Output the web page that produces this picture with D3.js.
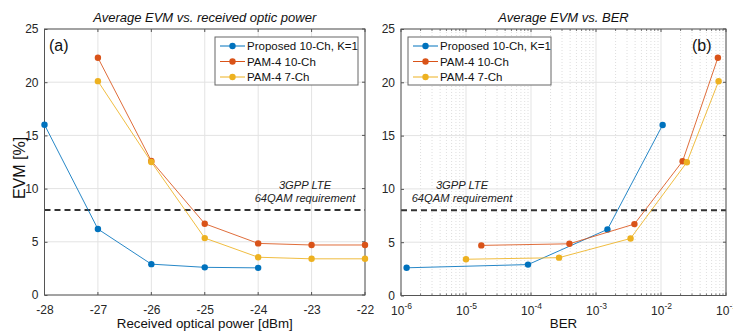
<!DOCTYPE html>
<html>
<head>
<meta charset="utf-8">
<script src="https://cdn.jsdelivr.net/npm/d3@7"></script>
<style>
  html, body { margin: 0; padding: 0; background: #fff; }
  svg { display: block; font-family: "Liberation Sans", Arial, Helvetica, sans-serif; }
</style>
</head>
<body>
<svg id="fig" width="733" height="333"></svg>
<script>
// Received optical power sweep [dBm]
const powerDbm = [-28, -27, -26, -25, -24, -23, -22];

// Average EVM [%] for each scheme (null = not measured)
const evmProposed = [16.0, 6.2, 2.9, 2.6, 2.55, null, null];
const evmPam4Ch10 = [null, 22.3, 12.6, 6.7, 4.85, 4.7, 4.7];
const evmPam4Ch7  = [null, 20.1, 12.5, 5.35, 3.55, 3.4, 3.4];

// Measured BER at the same power points (null = error free / not shown)
const berProposed = [1.06e-2, 1.5e-3, 9.0e-5, 1.22e-6, null, null, null];
const berPam4Ch10 = [null, 7.5e-2, 2.15e-2, 3.9e-3, 3.9e-4, 1.72e-5, null];
const berPam4Ch7  = [null, 7.7e-2, 2.5e-2, 3.4e-3, 2.7e-4, 1.0e-5, null];

const seriesNames = ["Proposed 10-Ch, K=1", "PAM-4 10-Ch", "PAM-4 7-Ch"];
const seriesColors = ["#0072BD", "#D95319", "#EDB120"];

const evmTicks = [0, 5, 10, 15, 20, 25];
const powerTicks = [-28, -27, -26, -25, -24, -23, -22];
const berTicks = [1e-6, 1e-5, 1e-4, 1e-3, 1e-2, 1e-1];
const evmLimit = 8;

const svg = d3.select("#fig");
const axisColor = "#555";
const gridColor = "#e3e3e3";

const evmSeries = [evmProposed, evmPam4Ch10, evmPam4Ch7];
const berSeries = [berProposed, berPam4Ch10, berPam4Ch7];

function panel(opts) {
  const { x0, x1, y0, y1 } = opts;
  const g = svg.append("g");
  const x = opts.xScale.range([x0, x1]);
  const y = d3.scaleLinear().domain([0, 25]).range([y1, y0]);

  // grid
  const grid = g.append("g");
  if (opts.minorTicks) {
    grid.selectAll("line.minor").data(opts.minorTicks).join("line")
      .attr("x1", d => x(d)).attr("x2", d => x(d))
      .attr("y1", y0).attr("y2", y1)
      .attr("stroke", "#d6d6d6").attr("stroke-width", 0.8)
      .attr("stroke-dasharray", "1,2");
  }
  grid.selectAll("line.vx").data(opts.xTicks).join("line")
    .attr("x1", d => x(d)).attr("x2", d => x(d))
    .attr("y1", y0).attr("y2", y1)
    .attr("stroke", gridColor).attr("stroke-width", 1);
  grid.selectAll("line.hy").data(evmTicks).join("line")
    .attr("x1", x0).attr("x2", x1)
    .attr("y1", d => y(d)).attr("y2", d => y(d))
    .attr("stroke", gridColor).attr("stroke-width", 1);

  // requirement line
  g.append("line")
    .attr("x1", x0).attr("x2", x1)
    .attr("y1", y(evmLimit)).attr("y2", y(evmLimit))
    .attr("stroke", "#333").attr("stroke-width", 2)
    .attr("stroke-dasharray", "6,4");

  const ann = g.append("text")
    .attr("font-style", "italic").attr("font-size", 11.2).attr("fill", "#222")
    .attr("text-anchor", "middle");
  ann.append("tspan").attr("x", opts.annX).attr("y", y(evmLimit) - 21).text("3GPP LTE");
  ann.append("tspan").attr("x", opts.annX).attr("y", y(evmLimit) - 8).text("64QAM  requirement");

  // axes (MATLAB style: ticks inward, box)
  const tickLen = 3;
  const axX = d3.axisBottom(x).tickValues(opts.xTicks).tickSize(0).tickFormat(() => "");
  const axY = d3.axisLeft(y).tickValues(evmTicks).tickSize(-tickLen).tickPadding(6)
    .tickFormat(d3.format("d"));

  const gy = g.append("g").attr("transform", `translate(${x0},0)`).call(axY);
  gy.select(".domain").remove();
  gy.selectAll("line").attr("stroke", axisColor);
  gy.selectAll("text").attr("font-size", 12).attr("fill", "#262626")
    .attr("font-family", "Liberation Sans, Arial, sans-serif");

  // tick marks on the other sides
  const ticks = g.append("g").attr("stroke", axisColor);
  ticks.selectAll("line.rt").data(evmTicks).join("line")
    .attr("x1", x1).attr("x2", x1 - tickLen)
    .attr("y1", d => y(d)).attr("y2", d => y(d));
  ticks.selectAll("line.bt").data(opts.xTicks).join("line")
    .attr("x1", d => x(d)).attr("x2", d => x(d)).attr("y1", y1).attr("y2", y1 - tickLen);
  ticks.selectAll("line.tt").data(opts.xTicks).join("line")
    .attr("x1", d => x(d)).attr("x2", d => x(d)).attr("y1", y0).attr("y2", y0 + tickLen);
  if (opts.minorTicks) {
    ticks.selectAll("line.mb").data(opts.minorTicks).join("line")
      .attr("x1", d => x(d)).attr("x2", d => x(d)).attr("y1", y1).attr("y2", y1 - 2)
      .attr("stroke-width", 0.8);
    ticks.selectAll("line.mt").data(opts.minorTicks).join("line")
      .attr("x1", d => x(d)).attr("x2", d => x(d)).attr("y1", y0).attr("y2", y0 + 2)
      .attr("stroke-width", 0.8);
  }

  // x tick labels
  const gx = g.append("g").attr("transform", `translate(0,${y1})`).call(axX);
  gx.select(".domain").remove();
  gx.selectAll(".tick text").remove();
  gx.selectAll(".tick").each(function (d) {
    const t = d3.select(this).append("text")
      .attr("y", 19).attr("text-anchor", "middle")
      .attr("font-size", 12).attr("fill", "#262626");
    opts.xLabel(t, d);
  });

  // box
  g.append("rect").attr("x", x0).attr("y", y0).attr("width", x1 - x0).attr("height", y1 - y0)
    .attr("fill", "none").attr("stroke", axisColor).attr("stroke-width", 1);

  // data
  const line = d3.line().defined(d => d[0] != null && d[1] != null)
    .x(d => x(d[0])).y(d => y(d[1]));
  opts.series.forEach((pts, i) => {
    const data = pts.filter(d => d[0] != null && d[1] != null);
    g.append("path").datum(data).attr("d", line)
      .attr("fill", "none").attr("stroke", seriesColors[i]).attr("stroke-width", 1)
      .attr("opacity", 0.85);
    g.selectAll(null).data(data).join("circle")
      .attr("cx", d => x(d[0])).attr("cy", d => y(d[1])).attr("r", 3.2)
      .attr("fill", seriesColors[i]);
  });

  // titles
  g.append("text").attr("x", (x0 + x1) / 2).attr("y", 22)
    .attr("text-anchor", "middle").attr("font-size", 13).attr("font-style", "italic")
    .attr("fill", "#111").text(opts.title);
  g.append("text").attr("x", (x0 + x1) / 2).attr("y", 328)
    .attr("text-anchor", "middle").attr("font-size", 13.3).attr("fill", "#111")
    .text(opts.xTitle);
  g.append("text").attr("x", opts.tagX).attr("y", 51)
    .attr("font-size", 16).attr("fill", "#111").text(opts.tag);

  // legend
  const lg = g.append("g").attr("transform", `translate(${opts.legX},${opts.legY})`);
  lg.append("rect").attr("x", 0).attr("y", 0).attr("width", 143).attr("height", 48)
    .attr("fill", "#fff").attr("stroke", "#666").attr("stroke-width", 1);
  seriesNames.forEach((name, i) => {
    const yy = 9 + i * 15.5;
    lg.append("line").attr("x1", 5).attr("x2", 30).attr("y1", yy).attr("y2", yy)
      .attr("stroke", seriesColors[i]).attr("stroke-width", 1);
    lg.append("circle").attr("cx", 17.5).attr("cy", yy).attr("r", 3.2).attr("fill", seriesColors[i]);
    lg.append("text").attr("x", 32).attr("y", yy + 4).attr("font-size", 11.5)
      .attr("fill", "#111").text(name);
  });
}

// (a) EVM vs received optical power
panel({
  x0: 44.5, x1: 365, y0: 29, y1: 295,
  xScale: d3.scaleLinear().domain([-28, -22]),
  xTicks: powerTicks,
  xLabel: (t, d) => t.text(d),
  series: evmSeries.map(s => powerDbm.map((p, i) => [s[i] != null ? p : null, s[i]])),
  title: "Average EVM vs. received optic power",
  xTitle: "Received optical power [dBm]",
  tag: "(a)", tagX: 49,
  legX: 215, legY: 37,
  annX: 305
});

// (b) EVM vs BER
const minorBer = [];
for (let e = -6; e < -1; e++) for (let m = 2; m <= 9; m++) minorBer.push(m * Math.pow(10, e));

panel({
  x0: 401, x1: 726, y0: 29, y1: 295.5,
  xScale: d3.scaleLog().domain([1e-6, 1e-1]),
  xTicks: berTicks,
  minorTicks: minorBer,
  xLabel: (t, d) => {
    t.append("tspan").text("10");
    t.append("tspan").attr("dy", -6).attr("font-size", 8.5).text(Math.round(Math.log10(d)));
  },
  series: berSeries.map((b, k) => b.map((v, i) => [v, evmSeries[k][i]])),
  title: "Average EVM vs. BER",
  xTitle: "BER",
  tag: "(b)", tagX: 692,
  legX: 408, legY: 37,
  annX: 462
});

// shared y label
svg.append("text")
  .attr("transform", "translate(25,168) rotate(-90)")
  .attr("text-anchor", "middle").attr("font-size", 16).attr("fill", "#111")
  .text("EVM [%]");
</script>
</body>
</html>
